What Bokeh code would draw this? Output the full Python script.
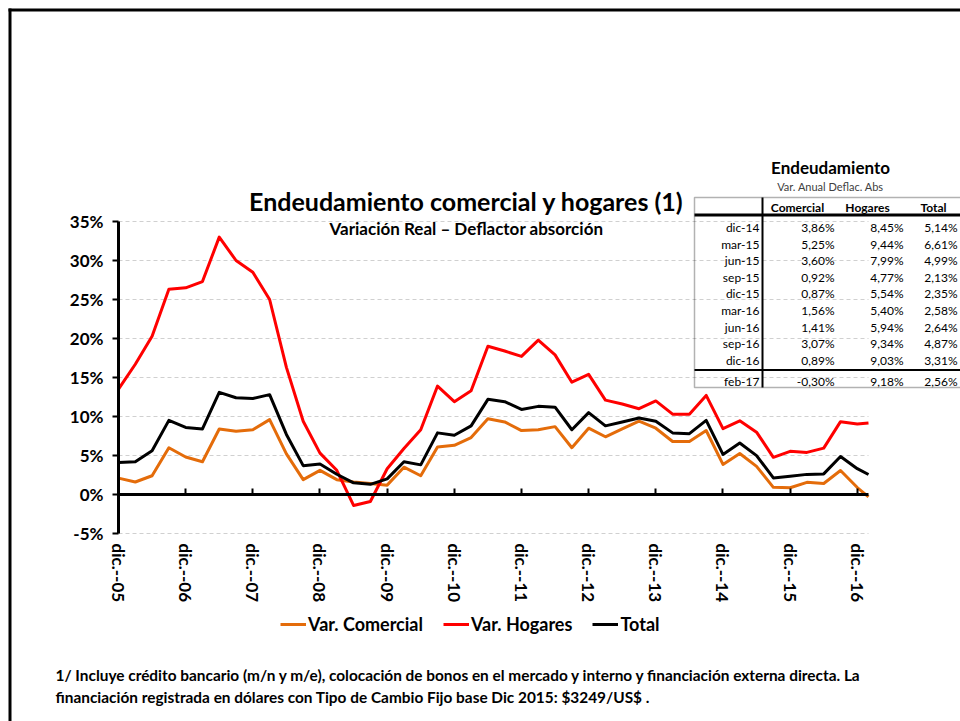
from bokeh.plotting import figure
from bokeh.models import (FixedTicker, LinearAxis, Label, Legend, LegendItem,
                          BoxAnnotation)
from bokeh.embed import file_html
from bokeh.resources import INLINE

# ---------------- data ----------------
periodos = ["dic-05",
            "mar-06", "jun-06", "sep-06", "dic-06",
            "mar-07", "jun-07", "sep-07", "dic-07",
            "mar-08", "jun-08", "sep-08", "dic-08",
            "mar-09", "jun-09", "sep-09", "dic-09",
            "mar-10", "jun-10", "sep-10", "dic-10",
            "mar-11", "jun-11", "sep-11", "dic-11",
            "mar-12", "jun-12", "sep-12", "dic-12",
            "mar-13", "jun-13", "sep-13", "dic-13",
            "mar-14", "jun-14", "sep-14", "dic-14",
            "mar-15", "jun-15", "sep-15", "dic-15",
            "mar-16", "jun-16", "sep-16", "dic-16",
            "feb-17"]

comercial = [2.1, 1.6, 2.4, 6.0, 4.8, 4.2, 8.4, 8.1, 8.3, 9.6, 5.2, 1.9, 3.1,
             1.9, 1.6, 1.4, 1.2, 3.5, 2.4, 6.1, 6.3, 7.3, 9.7, 9.3, 8.2, 8.3,
             8.7, 6.0, 8.5, 7.4, 8.4, 9.4, 8.5, 6.8, 6.8, 8.2, 3.86, 5.25,
             3.60, 0.92, 0.87, 1.56, 1.41, 3.07, 0.89, -0.30]

hogares = [13.5, 16.7, 20.3, 26.3, 26.5, 27.3, 33.0, 30.0, 28.5, 25.0, 16.3,
           9.4, 5.3, 3.1, -1.4, -0.9, 3.3, 5.9, 8.3, 13.9, 11.9, 13.3, 19.0,
           18.4, 17.7, 19.8, 17.9, 14.4, 15.4, 12.1, 11.6, 11.0, 12.0, 10.3,
           10.3, 12.7, 8.45, 9.44, 7.99, 4.77, 5.54, 5.40, 5.94, 9.34, 9.03,
           9.18]

total = [4.1, 4.2, 5.6, 9.5, 8.6, 8.4, 13.1, 12.4, 12.3, 12.8, 7.7, 3.7, 3.9,
         2.6, 1.5, 1.3, 2.0, 4.2, 3.8, 7.9, 7.6, 8.8, 12.2, 11.9, 10.9, 11.3,
         11.2, 8.3, 10.5, 8.8, 9.3, 9.8, 9.4, 7.9, 7.8, 9.5, 5.14, 6.61, 4.99,
         2.13, 2.35, 2.58, 2.64, 4.87, 3.31, 2.56]

y_ticks = [-5, 0, 5, 10, 15, 20, 25, 30, 35]
x_tick_labels = ["dic.--05", "dic.--06", "dic.--07", "dic.--08", "dic.--09",
                 "dic.--10", "dic.--11", "dic.--12", "dic.--13", "dic.--14",
                 "dic.--15", "dic.--16"]

tabla_periodos = ["dic-14", "mar-15", "jun-15", "sep-15", "dic-15",
                  "mar-16", "jun-16", "sep-16", "dic-16", "feb-17"]

series_names = ["Var. Comercial", "Var. Hogares", "Total"]

# ---------------- helpers ----------------
MES = {"ene": 1, "feb": 2, "mar": 3, "abr": 4, "may": 5, "jun": 6,
       "jul": 7, "ago": 8, "sep": 9, "oct": 10, "nov": 11, "dic": 12}


def meses(p):
    m, y = p.split("-")
    return (int(y) - 5) * 12 + (MES[m] - 12)


x = [meses(p) for p in periodos]
x_ticks = [meses("dic-%02d" % (5 + i)) for i in range(len(x_tick_labels))]

FONT = "Lato"
W, H = 960, 721
X0, X1 = 0, 134
Y0, Y1 = -5, 35
FR_L, FR_T, FR_W, FR_H = 118, 221, 750, 312   # page px of the data area
XS = FR_W / (X1 - X0)
YS = FR_H / (Y1 - Y0)


def dx(px):
    return X0 + (px - FR_L) / XS


def dy(py):
    return Y1 - (py - FR_T) / YS


# ---------------- figure (frame = whole canvas) ----------------
p = figure(width=W, height=H, x_range=(dx(0), dx(W)), y_range=(dy(H), dy(0)),
           output_backend="svg", toolbar_location=None,
           x_axis_type=None, y_axis_type=None, min_border=0)
p.outline_line_alpha = 0
p.background_fill_color = "white"
p.border_fill_color = "white"

# dashed horizontal gridlines over the data area
p.segment(x0=[X0] * len(y_ticks), x1=[X1] * len(y_ticks), y0=y_ticks,
          y1=y_ticks, line_color="#d0d0d0", line_dash="4 3", line_width=1)

# series
colors = ["#E46C0A", "#FF0000", "#000000"]
renderers = []
for vals, col in zip([comercial, hogares, total], colors):
    r = p.line(x, vals, line_color=col, line_width=3, line_join="round")
    renderers.append(r)

# y axis
ya = LinearAxis(fixed_location=X0, bounds=(Y0, Y1),
                ticker=FixedTicker(ticks=y_ticks))
ya.major_label_overrides = {t: "%d%%" % t for t in y_ticks}
ya.axis_line_width = 3
ya.axis_line_color = "black"
ya.major_tick_out = 6
ya.major_tick_in = 0
ya.major_tick_line_width = 2
ya.minor_tick_line_alpha = 0
ya.major_label_standoff = 9
ya.major_label_text_font = FONT
ya.major_label_text_font_style = "bold"
ya.major_label_text_font_size = "17px"
ya.major_label_text_color = "black"
p.add_layout(ya, "left")

# x axis (labels at the bottom of the data area)
xa = LinearAxis(fixed_location=Y0, bounds=(X0, X1),
                ticker=FixedTicker(ticks=x_ticks))
xa.major_label_overrides = {t: l for t, l in zip(x_ticks, x_tick_labels)}
xa.axis_line_alpha = 0
xa.major_tick_line_alpha = 0
xa.minor_tick_line_alpha = 0
xa.major_label_orientation = "vertical"
xa.major_label_standoff = 4
xa.major_label_text_font = FONT
xa.major_label_text_font_style = "bold"
xa.major_label_text_font_size = "17px"
xa.major_label_text_color = "black"
p.add_layout(xa, "below")

# zero axis line with ticks
za = LinearAxis(fixed_location=0, bounds=(X0, X1),
                ticker=FixedTicker(ticks=x_ticks))
za.major_label_overrides = {t: "" for t in x_ticks}
za.major_label_text_font_size = "1px"
za.axis_line_width = 3
za.axis_line_color = "black"
za.major_tick_in = 6
za.major_tick_out = 0
za.major_tick_line_width = 2
za.minor_tick_line_alpha = 0
p.add_layout(za, "below")

legend = Legend(items=[LegendItem(label=n, renderers=[r])
                       for n, r in zip(series_names, renderers)],
                orientation="horizontal", location=(280, H - 635),
                border_line_alpha=0, background_fill_alpha=0,
                padding=0, margin=0, spacing=20, label_standoff=2,
                glyph_width=26, glyph_height=20,
                label_text_font=FONT, label_text_font_style="bold",
                label_text_font_size="18px", label_text_color="black")
p.add_layout(legend, "center")


def label(px, py, text, size, bold=True, align="left", color="black"):
    p.add_layout(Label(x=dx(px), y=dy(py), text=text, text_font=FONT,
                       text_font_size=size,
                       text_font_style="bold" if bold else "normal",
                       text_align=align, text_baseline="middle",
                       text_color=color))


def box(l, t, r, b, fill=None, lw=1.5):
    kw = dict(left=dx(l), right=dx(r), top=dy(t), bottom=dy(b),
              line_color="black", line_width=lw)
    if fill:
        kw.update(fill_color=fill, fill_alpha=1, line_alpha=0)
    else:
        kw.update(fill_alpha=0)
    p.add_layout(BoxAnnotation(**kw))


# outer chart border (left and top visible)
box(8, 8, 11, H + 5, fill="black")
box(8, 8, W + 5, 11, fill="black")

# titles
label(466, 200, "Endeudamiento comercial y hogares (1)", "25px", align="center")
label(468, 228, "Variación Real – Deflactor  absorción", "17px", align="center")

# footnote
label(55, 674, "1/ Incluye crédito bancario (m/n y m/e),  colocación de bonos en el mercado y "
      "interno y financiación externa directa.  La", "15.4px")
label(55, 696, "financiación registrada en dólares con Tipo de Cambio Fijo base Dic 2015:  $3249/US$ .",
      "15.4px")

# ---------------- inset table ----------------
label(830, 167, "Endeudamiento", "17px", align="center")
label(830, 186, "Var. Anual Deflac. Abs", "11px", bold=False, align="center",
      color="#404040")
label(797, 207, "Comercial", "12px", align="center")
label(867, 207, "Hogares", "12px", align="center")
label(933, 207, "Total", "12px", align="center")


def fmt(v):
    return ("%.2f%%" % v).replace(".", ",")


row_y = [227 + 16.6 * i for i in range(9)] + [381]
for ry, per in zip(row_y, tabla_periodos):
    i = periodos.index(per)
    label(759, ry, per, "12px", bold=False, align="right")
    label(834, ry, fmt(comercial[i]), "12px", bold=False, align="right")
    label(903, ry, fmt(hogares[i]), "12px", bold=False, align="right")
    label(957, ry, fmt(total[i]), "12px", bold=False, align="right")

box(694, 197, W + 20, 387)                       # table frame
box(694, 213, W + 20, 216, fill="black")         # header rule
box(694, 368.5, W + 20, 370.5, fill="black")     # rule before last row
box(761, 197, 763, 387, fill="black")            # label column rule

open("out.html", "w").write(file_html(p, INLINE))
